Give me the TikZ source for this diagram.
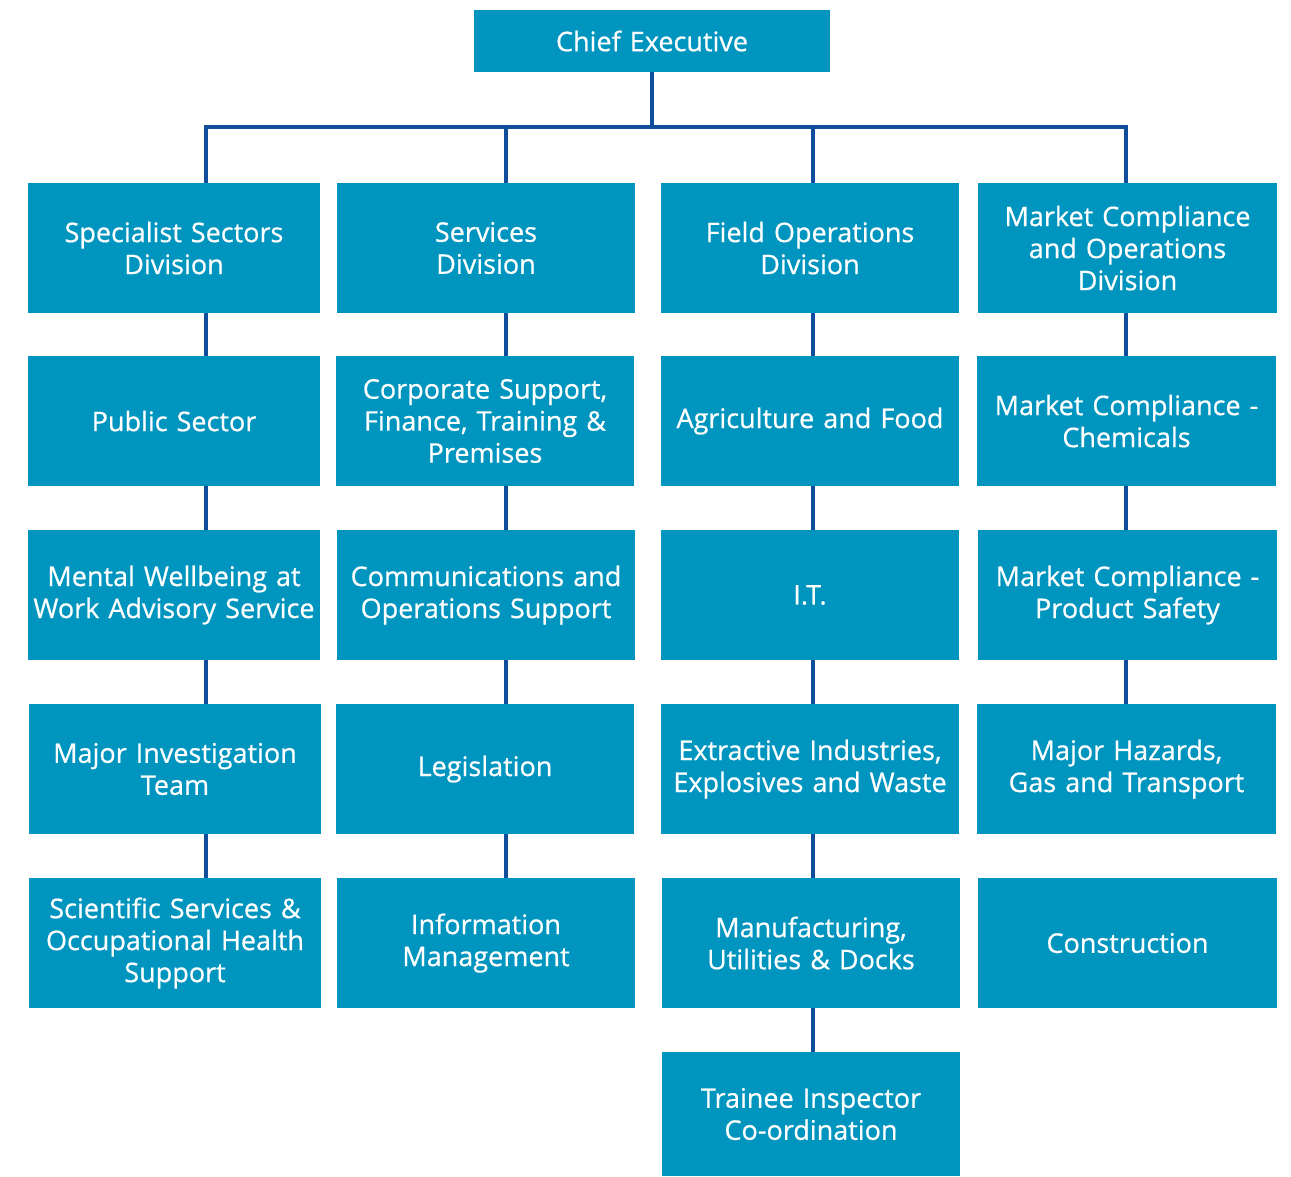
\documentclass[tikz,border=0pt]{standalone}
\usepackage{fontspec}
\setmainfont{Open Sans}
\newfontfamily\medfont{Open Sans}[BoldFont={Open Sans}, BoldFeatures={FakeBold=0.6}]
\definecolor{boxblue}{RGB}{0,149,191}
\definecolor{lineblue}{RGB}{16,78,156}
\begin{document}
\begin{tikzpicture}[x=1pt,y=-1pt,
  org/.style={fill=boxblue,draw=none,text=white,align=center,font=\medfont\bfseries\fontsize{27}{32}\selectfont,inner sep=0pt},
  conn/.style={draw=lineblue,line width=3.2pt}]
\useasboundingbox (0,0) rectangle (1291,1176);
\newcommand{\orgbox}[6]{% name, x1, y1, x2, y2, text
  \path[fill=boxblue] (#2,#3) rectangle (#4,#5);
  \node[org,text width=#4pt-#2pt] (#1) at ({(#2+#4)/2},{(#3+#5)/2}) {#6};
  \coordinate (#1-n) at ({(#2+#4)/2},#3);
  \coordinate (#1-s) at ({(#2+#4)/2},#5);
}
\orgbox{ce}{474}{10}{830}{72}{Chief Executive}
% column 1
\orgbox{a1}{28}{183}{320}{313}{Specialist Sectors\\Division}
\orgbox{a2}{28}{356}{320}{486}{Public Sector}
\orgbox{a3}{28}{530}{320}{660}{Mental Wellbeing at\\Work Advisory Service}
\orgbox{a4}{29}{704}{321}{834}{Major Investigation\\Team}
\orgbox{a5}{29}{878}{321}{1008}{Scientific Services \&\\Occupational Health\\Support}
% column 2
\orgbox{b1}{337}{183}{635}{313}{Services\\Division}
\orgbox{b2}{336}{356}{634}{486}{Corporate Support,\\Finance, Training \&\\Premises}
\orgbox{b3}{337}{530}{635}{660}{Communications and\\Operations Support}
\orgbox{b4}{336}{704}{634}{834}{Legislation}
\orgbox{b5}{337}{878}{635}{1008}{Information\\Management}
% column 3
\orgbox{c1}{661}{183}{959}{313}{Field Operations\\Division}
\orgbox{c2}{661}{356}{959}{486}{Agriculture and Food}
\orgbox{c3}{661}{530}{959}{660}{I.T.}
\orgbox{c4}{661}{704}{959}{834}{Extractive Industries,\\Explosives and Waste}
\orgbox{c5}{662}{878}{960}{1008}{Manufacturing,\\Utilities \& Docks}
\orgbox{c6}{662}{1052}{960}{1176}{Trainee Inspector\\Co-ordination}
% column 4
\orgbox{d1}{978}{183}{1277}{313}{Market Compliance\\and Operations\\Division}
\orgbox{d2}{977}{356}{1276}{486}{Market Compliance -\\Chemicals}
\orgbox{d3}{978}{530}{1277}{660}{Market Compliance -\\Product Safety}
\orgbox{d4}{977}{704}{1276}{834}{Major Hazards,\\Gas and Transport}
\orgbox{d5}{978}{878}{1277}{1008}{Construction}
% connector x positions
\coordinate (xce) at (652,0);
\coordinate (xa) at (206,0);
\coordinate (xb) at (506,0);
\coordinate (xc) at (813,0);
\coordinate (xd) at (1126,0);
\coordinate (bus) at (0,127);
\draw[conn] (ce-s -| xce) -- (bus -| xce);
\draw[conn,line cap=rect] (bus -| xa) -- (bus -| xd);
\draw[conn] (bus -| xa) -- (a1-n -| xa);
\draw[conn] (bus -| xb) -- (b1-n -| xb);
\draw[conn] (bus -| xc) -- (c1-n -| xc);
\draw[conn] (bus -| xd) -- (d1-n -| xd);
\foreach \u/\v in {a1/a2,a2/a3,a3/a4,a4/a5}{\draw[conn] (\u-s -| xa) -- (\v-n -| xa);}
\foreach \u/\v in {b1/b2,b2/b3,b3/b4,b4/b5}{\draw[conn] (\u-s -| xb) -- (\v-n -| xb);}
\foreach \u/\v in {c1/c2,c2/c3,c3/c4,c4/c5,c5/c6}{\draw[conn] (\u-s -| xc) -- (\v-n -| xc);}
\foreach \u/\v in {d1/d2,d2/d3,d3/d4}{\draw[conn] (\u-s -| xd) -- (\v-n -| xd);}
\end{tikzpicture}
\end{document}
